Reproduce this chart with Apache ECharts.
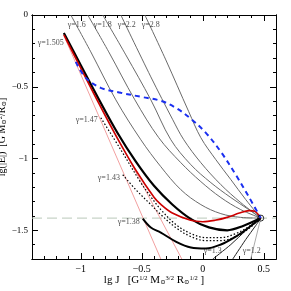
<!DOCTYPE html>
<html><head><meta charset="utf-8">
<script src="https://cdn.jsdelivr.net/npm/echarts@6/dist/echarts.min.js"></script>
<style>html,body{margin:0;padding:0;background:#fff}#c{width:291px;height:291px}</style>
</head><body><div id="c"></div>
<script>
// ---- data (lg J, lg|E|) ----
const C = [0.475, -1.415];
const grey1 = [[-1.082,0],[-0.918,-0.257],[-0.713,-0.591],[-0.508,-0.869],[-0.344,-1.057],[-0.180,-1.217],[-0.016,-1.321],[0.148,-1.384],[0.311,-1.410],[0.475,-1.415]];
const grey2 = [[-0.943,0],[-0.771,-0.257],[-0.557,-0.591],[-0.361,-0.855],[-0.180,-1.029],[-0.016,-1.161],[0.148,-1.272],[0.311,-1.356],[0.475,-1.415]];
const grey3 = [[-0.820,0],[-0.631,-0.278],[-0.426,-0.591],[-0.262,-0.869],[-0.098,-1.043],[0.066,-1.168],[0.230,-1.272],[0.377,-1.356],[0.475,-1.415]];
const grey4 = [[-0.672,0],[-0.426,-0.431],[-0.246,-0.730],[-0.156,-0.869],[-0.016,-1.029],[0.148,-1.182],[0.311,-1.307],[0.475,-1.415]];
const grey5 = [[-0.475,0],[-0.303,-0.313],[-0.115,-0.674],[-0.016,-0.855],[0.107,-1.008],[0.230,-1.147],[0.352,-1.286],[0.475,-1.415]];
const black1505 = [[-1.139,-0.125],[-1.0,-0.35],[-0.85,-0.59],[-0.7,-0.82],[-0.55,-1.02],[-0.4,-1.19],[-0.25,-1.32],[-0.1,-1.42],[0.05,-1.48],[0.2,-1.50],[0.33,-1.47],[0.475,-1.415]];
const red = [[-1.139,-0.139],[-1.0,-0.37],[-0.85,-0.62],[-0.7,-0.86],[-0.55,-1.08],[-0.4,-1.27],[-0.344,-1.32],[-0.25,-1.38],[-0.1,-1.43],[0.0,-1.44],[0.1,-1.43],[0.2,-1.41],[0.3,-1.38],[0.38,-1.363],[0.43,-1.37],[0.475,-1.415]];
const dot147 = [[-0.836,-0.716],[-0.672,-0.939],[-0.508,-1.168],[-0.426,-1.266],[-0.344,-1.356],[-0.221,-1.46],[-0.098,-1.523],[0.025,-1.551],[0.148,-1.551],[0.270,-1.523],[0.377,-1.474],[0.475,-1.415]];
const dot143 = [[-0.656,-1.113],[-0.549,-1.217],[-0.426,-1.321],[-0.344,-1.391],[-0.221,-1.481],[-0.098,-1.544],[0.025,-1.572],[0.148,-1.572],[0.270,-1.544],[0.377,-1.488],[0.475,-1.415]];
const black138 = [[-0.492,-1.419],[-0.426,-1.481],[-0.344,-1.516],[-0.221,-1.579],[-0.098,-1.62],[0.025,-1.627],[0.148,-1.599],[0.270,-1.544],[0.377,-1.481],[0.475,-1.415]];
const thin13 = [[0.082,-1.70],[0.230,-1.599],[0.352,-1.502],[0.475,-1.415]];
const thin12 = [[0.246,-1.70],[0.352,-1.564],[0.434,-1.467],[0.475,-1.415]];
const thinGrey = [[0.393,-1.70],[0.475,-1.415]];
const blue = [[-1.041,-0.327],[-0.959,-0.438],[-0.836,-0.508],[-0.672,-0.542],[-0.508,-0.570],[-0.344,-0.598],[-0.221,-0.647],[-0.098,-0.723],[0.025,-0.821],[0.148,-0.953],[0.270,-1.113],[0.377,-1.266],[0.475,-1.415]];
const pink1 = [[-1.123,-0.174],[-0.344,-1.70]];
const pink2 = [[-1.123,-0.174],[-0.172,-1.70]];
const hLevel = -1.415;
const gammaText = ['γ=1.505','γ=1.47','γ=1.43','γ=1.38','γ=1.3','γ=1.2','γ=1.6','γ=1.8','γ=2.2','γ=2.8'];
const gammaX = [-1.246,-0.951,-0.770,-0.607,0.082,0.402,-1.033,-0.820,-0.623,-0.426];
const gammaY = [-0.195,-0.730,-1.134,-1.440,-1.641,-1.641,-0.070,-0.070,-0.070,-0.070];
const xMajor = [-1,-0.5,0,0.5];
const yMajor = [-1.5,-1,-0.5,0];
const xMinor = [-1.3,-1.2,-1.1,-1,-0.9,-0.8,-0.7,-0.6,-0.5,-0.4,-0.3,-0.2,-0.1,0,0.1,0.2,0.3,0.4,0.5];
const yMinor = [-1.6,-1.5,-1.4,-1.3,-1.2,-1.1,-1,-0.9,-0.8,-0.7,-0.6,-0.5,-0.4,-0.3,-0.2,-0.1];

const SERIF = "'Liberation Serif','DejaVu Serif',serif";
const fmt = v => (v < 0 ? '\u2212' + String(-v) : String(v));
function xa(pos, ticks, len, labels, extra) {
  return Object.assign({type:'value', position:pos, min:-1.4, max:0.6,
    axisLine:{show:true, onZero:false, lineStyle:{color:'#000', width:1}},
    axisTick:{show:true, inside:true, length:len, customValues:ticks, lineStyle:{color:'#000'}},
    axisLabel:labels ? {show:true, customValues:xMajor, formatter:fmt, fontFamily:SERIF, fontSize:10, color:'#000', margin:5} : {show:false},
    splitLine:{show:false}}, extra||{});
}
function ya(pos, ticks, len, labels, extra) {
  return Object.assign({type:'value', position:pos, min:-1.7, max:0,
    axisLine:{show:true, onZero:false, lineStyle:{color:'#000', width:1}},
    axisTick:{show:true, inside:true, length:len, customValues:ticks, lineStyle:{color:'#000'}},
    axisLabel:labels ? {show:true, customValues:yMajor, formatter:fmt, fontFamily:SERIF, fontSize:9, color:'#000', margin:4} : {show:false},
    splitLine:{show:false}}, extra||{});
}
const rich = {
  sup:{fontSize:6.5, fontFamily:SERIF, color:'#000', padding:[0,0,4,0]},
  sub:{fontSize:6.5, fontFamily:SERIF, color:'#000', padding:[4,0,0,0]}
};
const chart = echarts.init(document.getElementById('c'), null, {renderer:'canvas'});
function line(data, color, width, type, z, smooth) {
  return {type:'line', data:data, showSymbol:false, symbol:'none', smooth:smooth===undefined?0.35:smooth, z:z||2,
    lineStyle:{color:color, width:width, type:type||'solid'}, silent:true, animation:false};
}
chart.setOption({
  animation:false,
  grid:{left:32, right:15, top:15, bottom:32, outerBoundsMode:'none', containLabel:false},
  xAxis:[
    xa('bottom', xMajor, 6, true, {name:'lg J   [G{sup|1/2} M{sub|⊙}{sup|3/2} R{sub|⊙}{sup|1/2} ]', nameLocation:'middle', nameGap:16, nameMoveOverlap:false,
      nameTextStyle:{fontFamily:SERIF, fontSize:11, color:'#000', rich:rich}}),
    xa('bottom', xMinor, 3, false),
    xa('top', xMajor, 6, false),
    xa('top', xMinor, 3, false)
  ],
  yAxis:[
    ya('left', yMajor, 6, true, {name:'lg(|E|)  [G M{sub|⊙}{sup|2}/R{sub|⊙}]', nameLocation:'middle', nameGap:24, nameRotate:90, nameMoveOverlap:false,
      nameTextStyle:{fontFamily:SERIF, fontSize:10, color:'#000', rich:rich}}),
    ya('left', yMinor, 3, false),
    ya('right', yMajor, 6, false),
    ya('right', yMinor, 3, false)
  ],
  series:[
    line([[-1.4,hLevel],[0.6,hLevel]], '#b9c8b9', 1, [10,5], 1, false),
    line(grey1,'#6a6a6a',1), line(grey2,'#6a6a6a',1), line(grey3,'#6a6a6a',1), line(grey4,'#6a6a6a',1), line(grey5,'#6a6a6a',1),
    line(thinGrey,'#aaaaaa',1,'solid',2,false),
    line(thin13,'#222',1), line(thin12,'#222',1),
    line(pink1,'#f2a0a0',1,'solid',2,false), line(pink2,'#f2a0a0',1,'solid',2,false),
    line(dot147,'#000',1.2,[1.5,2]), line(dot143,'#000',1.2,[1.5,2]),
    line(black138,'#000',2), line(black1505,'#000',2.2,'solid',3),
    line(red,'#cc0000',1.6,'solid',4),
    line(blue,'#1a2ff0',2,[5,4],5),
    {type:'scatter', data:[C], symbol:'circle', symbolSize:6, itemStyle:{color:'rgba(0,0,0,0)', borderColor:'#000', borderWidth:1}, z:6, silent:true},
    {type:'scatter', symbolSize:0, z:7, silent:true,
     data:gammaText.map((t,i)=>({value:[gammaX[i],gammaY[i]], name:t})),
     label:{show:true, position:'inside', formatter:p=>p.name, fontFamily:SERIF, fontSize:8, color:'#222'}}
  ]
});
</script></body></html>
